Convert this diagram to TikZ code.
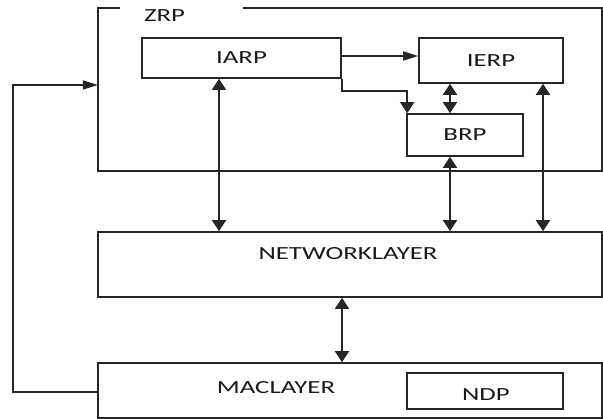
\documentclass[tikz,border=0pt]{standalone}
\usepackage{fontspec}
\setmainfont{Carlito}[FakeStretch=1.45]
\usetikzlibrary{arrows.meta,calc}
\tikzset{
  box/.style={draw=black!85, line width=1.6pt, inner sep=0pt, rectangle},
  lbl/.style={inner sep=0pt, font=\fontsize{18.5}{20}\selectfont, text=black!90},
  conn/.style={draw=black!85, line width=1.6pt},
  varrow/.style={conn, -{Triangle[length=11pt,width=14pt]}},
  vboth/.style={conn, {Triangle[length=11pt,width=14pt]}-{Triangle[length=11pt,width=14pt]}},
  harrow/.style={conn, -{Triangle[length=15pt,width=9pt]}}
}
\begin{document}
\begin{tikzpicture}[x=1pt,y=-1pt]
\useasboundingbox (0,0) rectangle (603,419);
% ZRP outer box (drawn with a gap in the top edge)
\node[inner sep=0pt, minimum width=504pt, minimum height=163pt] (zrp) at (350,89.5) {};
\draw[conn] (zrp.north west) ++(22,0) -- (zrp.north west) -- (zrp.south west) -- (zrp.south east) -- (zrp.north east) -- ++(-359,0);
\node[lbl] (zrplbl) at (164.5,16) {ZRP};
% inner boxes
\node[box, lbl, minimum width=199pt, minimum height=40pt] (iarp) at (241.5,58) {IARP};
\node[box, lbl, minimum width=144pt, minimum height=45pt] (ierp) at (491,60.5) {IERP};
\node[box, lbl, minimum width=116pt, minimum height=42pt] (brp) at (465,135) {BRP};
% layers
\node[box, minimum width=504pt, minimum height=65pt] (net) at (350,264.5) {};
\node[lbl] (netlbl) at (348,254) {NETWORKLAYER};
\node[box, minimum width=504pt, minimum height=55pt] (mac) at (350,390.5) {};
\node[lbl] (maclbl) at (276,388) {MACLAYER};
\node[box, minimum width=156pt, minimum height=36pt] (ndp) at (485,391) {};
\node[lbl] (ndplbl) at (486,395) {NDP};
% connectors
\draw[harrow] ([yshift=2pt]iarp.east) -- ([yshift=2pt]iarp.east -| ierp.west);
\draw[varrow] (iarp.south east) -- ++(0,12) -| ([xshift=1pt]brp.north west);
\draw[vboth] ([xshift=-15pt]brp.north) -- ([xshift=-15pt]brp.north |- ierp.south);
\draw[vboth] ([xshift=-22.5pt]iarp.south) -- ([xshift=-22.5pt]iarp.south |- net.north);
\draw[vboth] ([xshift=-15pt]brp.south) -- ([xshift=-15pt]brp.south |- net.north);
\draw[vboth] ([xshift=52pt]ierp.south) -- ([xshift=52pt]ierp.south |- net.north);
\draw[vboth] ([xshift=-8pt]net.south) -- ([xshift=-8pt]net.south |- mac.north);
\coordinate (fbtop) at (13,85);
\draw[harrow] ([yshift=-1.5pt]mac.west) -| (fbtop) -- (fbtop -| zrp.west);
\end{tikzpicture}
\end{document}
